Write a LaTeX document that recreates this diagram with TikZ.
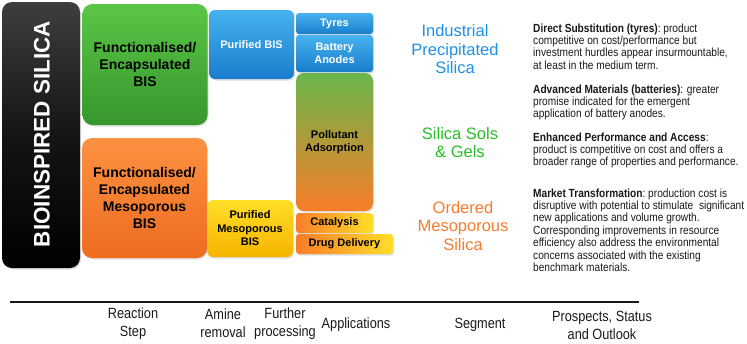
\documentclass[tikz,border=0pt]{standalone}
\usepackage{fontspec}
\setmainfont{Liberation Sans}
\newfontfamily\narrowfont[FakeStretch=0.86]{Liberation Sans}
\usetikzlibrary{shadows}
\definecolor{gtop}{RGB}{90,198,70}
\definecolor{gbot}{RGB}{55,150,45}
\definecolor{otop}{RGB}{252,145,65}
\definecolor{obot}{RGB}{238,108,32}
\definecolor{btop}{RGB}{70,178,238}
\definecolor{bbot}{RGB}{25,125,205}
\definecolor{ytop}{RGB}{255,222,40}
\definecolor{ybot}{RGB}{245,180,0}
\definecolor{ptop}{RGB}{105,182,75}
\definecolor{pbot}{RGB}{248,125,40}
\definecolor{kgray}{RGB}{62,62,62}
\definecolor{segblue}{RGB}{30,145,230}
\definecolor{seggreen}{RGB}{40,190,40}
\definecolor{segorange}{RGB}{245,125,50}
\definecolor{txtgray}{RGB}{25,25,25}
\begin{document}
\begin{tikzpicture}[x=1pt,y=-1pt,
  shade/.style={drop shadow={shadow xshift=1pt,shadow yshift=-1.5pt,opacity=0.25}},
  bigbox/.style={shade,rounded corners=10pt,inner sep=0pt,align=center,
    font=\bfseries\fontsize{14}{17}\selectfont},
  midbox/.style={shade,rounded corners=6pt,inner sep=0pt,align=center,
    font=\bfseries\fontsize{11}{13.5}\selectfont},
  smallbox/.style={shade,rounded corners=3pt,inner sep=0pt,align=center,
    font=\bfseries\fontsize{11}{13}\selectfont},
  seglabel/.style={align=center,inner sep=0pt,font=\fontsize{16.5}{18.6}\selectfont},
  prospect/.style={anchor=west,align=left,inner sep=0pt,text=txtgray,
    font=\narrowfont\fontsize{11.8}{12.4}\selectfont},
  axislabel/.style={align=center,inner sep=0pt,text=txtgray,
    font=\narrowfont\fontsize{14.8}{18}\selectfont}]
\useasboundingbox (0,0) rectangle (747,343);
% reaction step column
\node[shade,rounded corners=10pt,inner sep=0pt,minimum width=78pt,minimum height=266pt,
  top color=kgray,bottom color=black,middle color=black!92] (bis) at (41,135) {};
\node[rotate=90,text=white,inner sep=0pt,font=\bfseries\fontsize{22.5}{24}\selectfont] (bistitle) at (42,134) {BIOINSPIRED SILICA};
\node[bigbox,minimum width=125pt,minimum height=121pt,top color=gtop,bottom color=gbot] (fbis) at (145,64.5) {Functionalised/\\Encapsulated\\BIS};
\node[bigbox,minimum width=125pt,minimum height=120pt,top color=otop,bottom color=obot] (fmbis) at (144.5,198) {Functionalised/\\Encapsulated\\Mesoporous\\BIS};
% amine removal
\node[midbox,minimum width=85pt,minimum height=69pt,top color=btop,bottom color=bbot,text=white] (pbis) at (251.5,44.5) {Purified BIS};
\node[midbox,minimum width=86pt,minimum height=57pt,top color=ytop,bottom color=ybot] (pmbis) at (250,228.5) {Purified\\Mesoporous\\BIS};
% applications
\node[smallbox,minimum width=77pt,minimum height=21pt,top color=btop,bottom color=bbot,text=white] (tyres) at (334.5,23.5) {Tyres};
\node[smallbox,minimum width=77pt,minimum height=37pt,top color=btop,bottom color=bbot,text=white] (battery) at (334.5,53.5) {Battery\\Anodes};
\node[smallbox,rounded corners=8pt,minimum width=77pt,minimum height=138pt,top color=ptop,bottom color=pbot] (pollut) at (334.5,142) {Pollutant\\Adsorption};
\node[smallbox,minimum width=77pt,minimum height=20pt,left color=pbot,right color=ytop] (catal) at (334.5,223) {Catalysis};
\node[smallbox,minimum width=97pt,minimum height=20pt,left color=pbot,right color=ytop] (drug) at (344.5,244) {Drug Delivery};
% segments
\node[seglabel,text=segblue] (seg1) at (455,49.5) {Industrial\\Precipitated\\Silica};
\node[seglabel,text=seggreen] (seg2) at (460,142.5) {Silica Sols\\\& Gels};
\node[seglabel,text=segorange] (seg3) at (463,226) {Ordered\\Mesoporous\\Silica};
% prospects
\node[prospect] (pr1) at (533,46.5) {\textbf{Direct Substitution (tyres)}:\ product\\competitive on cost/performance but\\investment hurdles appear insurmountable,\\at least in the medium term.};
\node[prospect] (pr2) at (533,102.5) {\textbf{Advanced Materials (batteries)}: greater\\promise indicated for the emergent\\application of battery anodes.};
\node[prospect] (pr3) at (533,150.5) {\textbf{Enhanced Performance and Access}:\\product is competitive on cost and offers a\\broader range of properties and performance.};
\node[prospect] (pr4) at (533,230) {\textbf{Market Transformation}:\ production cost is\\disruptive with potential to stimulate\ \ significant\\new applications and volume growth.\\Corresponding improvements in resource\\efficiency also address the environmental\\concerns associated with the existing\\benchmark materials.};
% axis
\coordinate (axl) at (10,302);
\coordinate (axr) at (639,302);
\draw[line width=1.6pt,black!90] (axl) -- (axr);
\node[axislabel] (ax1) at (133,323.5) {Reaction\\Step};
\node[axislabel] (ax2) at (223,323.5) {Amine\\removal};
\node[axislabel] (ax3) at (285,323.5) {Further\\processing};
\node[axislabel] (ax4) at (356,324.5) {Applications};
\node[axislabel] (ax5) at (480,324.5) {Segment};
\node[axislabel,font=\narrowfont\fontsize{14.8}{17.5}\selectfont] (ax6) at (602,325.5) {Prospects, Status\\and Outlook};
\end{tikzpicture}
\end{document}
